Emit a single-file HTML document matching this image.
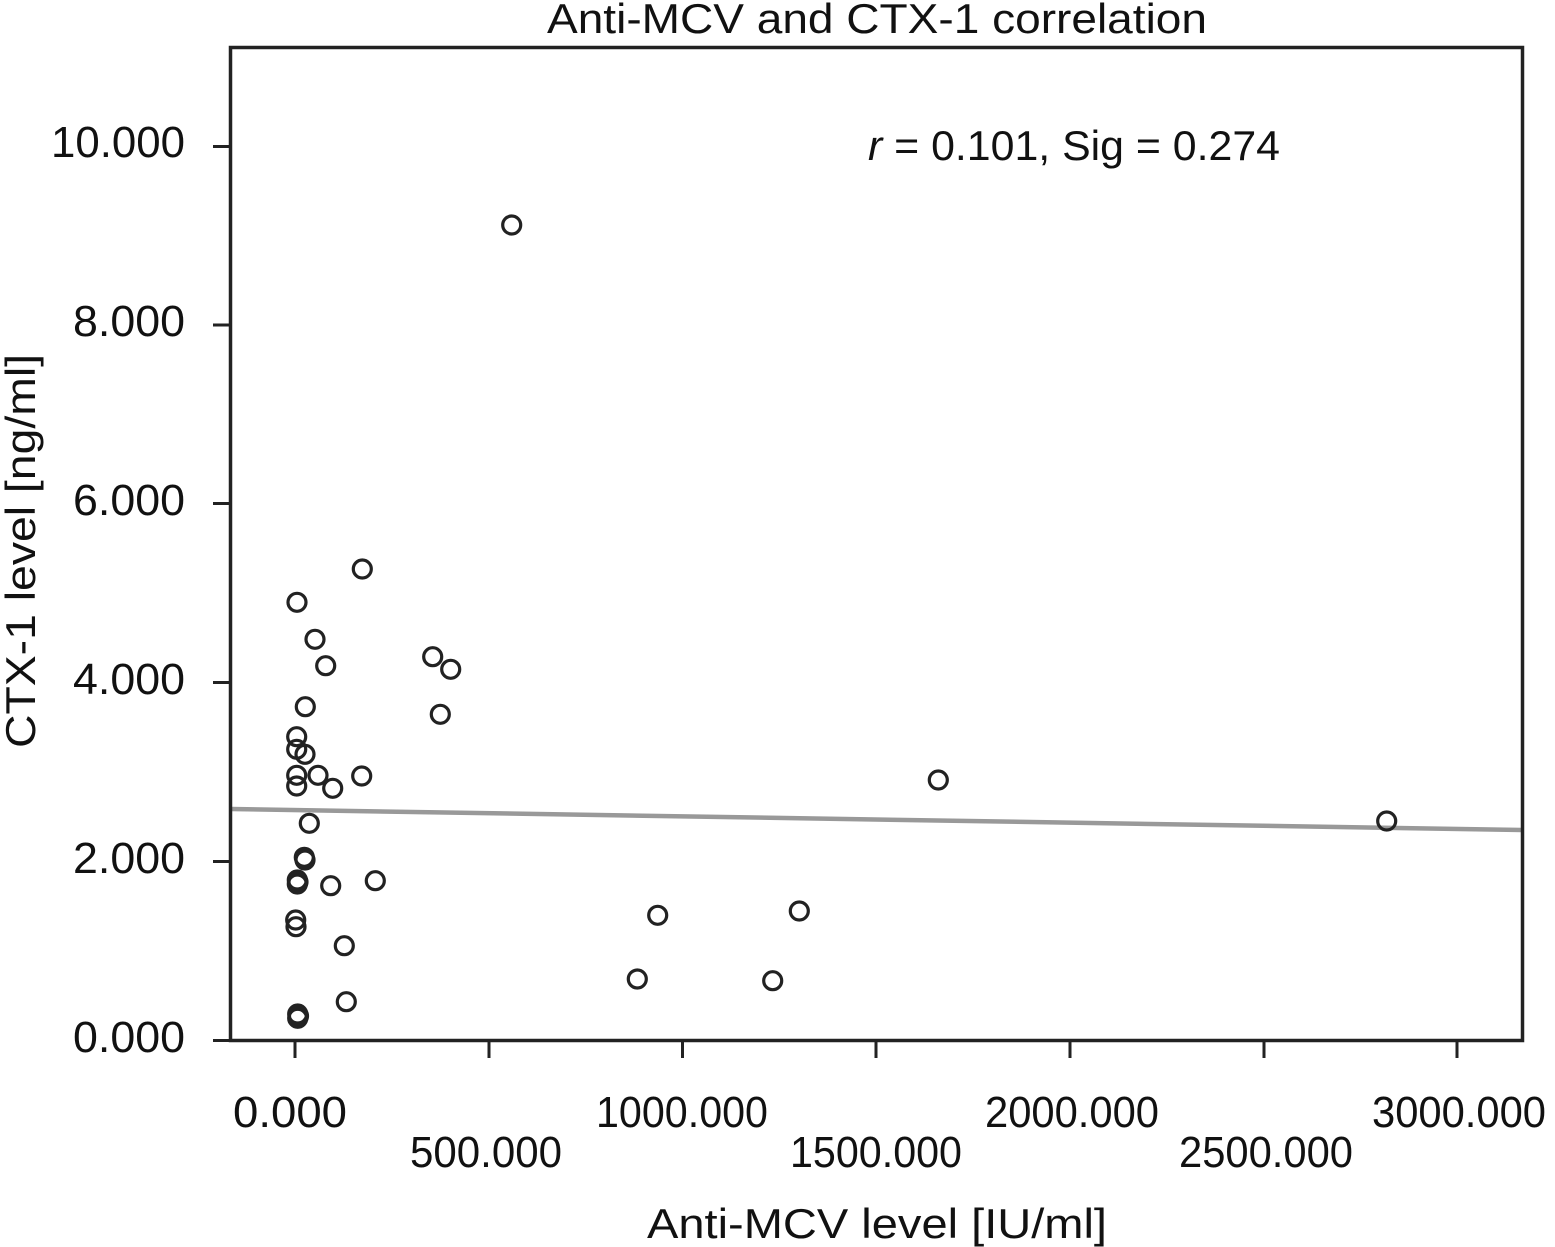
<!DOCTYPE html>
<html>
<head>
<meta charset="utf-8">
<style>
  html, body { margin: 0; padding: 0; background: #fff; }
  svg { display: block; }
  text { font-family: "Liberation Sans", sans-serif; fill: #111; }
</style>
</head>
<body>
<svg width="1555" height="1247" viewBox="0 0 1555 1247" xmlns="http://www.w3.org/2000/svg">
  <rect x="0" y="0" width="1555" height="1247" fill="#fff"/>

  <!-- Title -->
  <text x="877" y="33" font-size="42" text-anchor="middle" textLength="660" lengthAdjust="spacingAndGlyphs">Anti-MCV and CTX-1 correlation</text>

  <!-- Annotation -->
  <text x="868" y="160" font-size="42" textLength="412" lengthAdjust="spacingAndGlyphs"><tspan font-style="italic">r</tspan> = 0.101, Sig = 0.274</text>

  <!-- Regression line -->
  <line x1="231" y1="809" x2="1522" y2="830" stroke="#999" stroke-width="4.5"/>

  <!-- Plot frame -->
  <rect x="230.5" y="47.5" width="1292" height="993" fill="none" stroke="#222" stroke-width="3.5"/>

  <!-- Y ticks -->
  <g stroke="#222" stroke-width="3">
    <line x1="213" y1="146.5" x2="231" y2="146.5"/>
    <line x1="213" y1="325" x2="231" y2="325"/>
    <line x1="213" y1="503.5" x2="231" y2="503.5"/>
    <line x1="213" y1="682.5" x2="231" y2="682.5"/>
    <line x1="213" y1="861.5" x2="231" y2="861.5"/>
    <line x1="213" y1="1040.5" x2="231" y2="1040.5"/>
  </g>
  <g font-size="44" text-anchor="end">
    <text x="185" y="157" textLength="134" lengthAdjust="spacingAndGlyphs">10.000</text>
    <text x="185" y="336" textLength="112" lengthAdjust="spacingAndGlyphs">8.000</text>
    <text x="185" y="515" textLength="112" lengthAdjust="spacingAndGlyphs">6.000</text>
    <text x="185" y="694" textLength="112" lengthAdjust="spacingAndGlyphs">4.000</text>
    <text x="185" y="873" textLength="112" lengthAdjust="spacingAndGlyphs">2.000</text>
    <text x="185" y="1052" textLength="112" lengthAdjust="spacingAndGlyphs">0.000</text>
  </g>

  <!-- X ticks -->
  <g stroke="#222" stroke-width="3">
    <line x1="295" y1="1040" x2="295" y2="1058"/>
    <line x1="489" y1="1040" x2="489" y2="1058"/>
    <line x1="682.5" y1="1040" x2="682.5" y2="1058"/>
    <line x1="876" y1="1040" x2="876" y2="1058"/>
    <line x1="1070" y1="1040" x2="1070" y2="1058"/>
    <line x1="1264" y1="1040" x2="1264" y2="1058"/>
    <line x1="1457" y1="1040" x2="1457" y2="1058"/>
  </g>
  <g font-size="44" text-anchor="middle">
    <text x="290" y="1127" textLength="114" lengthAdjust="spacingAndGlyphs">0.000</text>
    <text x="486" y="1167" textLength="152" lengthAdjust="spacingAndGlyphs">500.000</text>
    <text x="682" y="1127" textLength="172" lengthAdjust="spacingAndGlyphs">1000.000</text>
    <text x="876" y="1167" textLength="172" lengthAdjust="spacingAndGlyphs">1500.000</text>
    <text x="1072" y="1127" textLength="174" lengthAdjust="spacingAndGlyphs">2000.000</text>
    <text x="1266" y="1167" textLength="174" lengthAdjust="spacingAndGlyphs">2500.000</text>
    <text x="1459" y="1127" textLength="174" lengthAdjust="spacingAndGlyphs">3000.000</text>
  </g>

  <!-- Axis titles -->
  <text x="877" y="1238" font-size="42" text-anchor="middle" textLength="460" lengthAdjust="spacingAndGlyphs">Anti-MCV level [IU/ml]</text>
  <text transform="translate(35,551) rotate(-90)" x="0" y="0" font-size="42" text-anchor="middle" textLength="394" lengthAdjust="spacingAndGlyphs">CTX-1 level [ng/ml]</text>

  <!-- Data points -->
  <g fill="none" stroke="#222" stroke-width="3.2">
    <circle cx="511.7" cy="225" r="9"/>
    <circle cx="362.3" cy="569" r="9"/>
    <circle cx="297" cy="602.3" r="9"/>
    <circle cx="315" cy="639.3" r="9"/>
    <circle cx="325.7" cy="665.7" r="9"/>
    <circle cx="432.7" cy="656.7" r="9"/>
    <circle cx="450.7" cy="669.3" r="9"/>
    <circle cx="305.3" cy="706.7" r="9"/>
    <circle cx="440.3" cy="714.3" r="9"/>
    <circle cx="296.7" cy="736.7" r="9"/>
    <circle cx="296.7" cy="749.3" r="9"/>
    <circle cx="305" cy="754.3" r="9"/>
    <circle cx="296.7" cy="775.3" r="9"/>
    <circle cx="318" cy="775.3" r="9"/>
    <circle cx="296.7" cy="786" r="9"/>
    <circle cx="332.7" cy="788.3" r="9"/>
    <circle cx="361.7" cy="776" r="9"/>
    <circle cx="309.3" cy="823.3" r="9"/>
    <circle cx="304.3" cy="857.3" r="9"/>
    <circle cx="305" cy="860" r="9"/>
    <circle cx="297.3" cy="880" r="9"/>
    <circle cx="297.3" cy="884" r="9"/>
    <circle cx="298" cy="882" r="9"/>
    <circle cx="330.7" cy="885.7" r="9"/>
    <circle cx="375.3" cy="880.7" r="9"/>
    <circle cx="295.7" cy="920" r="9"/>
    <circle cx="296" cy="926.7" r="9"/>
    <circle cx="344.3" cy="945.7" r="9"/>
    <circle cx="346.3" cy="1001.7" r="9"/>
    <circle cx="297.7" cy="1014" r="9"/>
    <circle cx="297.7" cy="1018.3" r="9"/>
    <circle cx="298.5" cy="1016" r="9"/>
    <circle cx="657.7" cy="915.3" r="9"/>
    <circle cx="799.3" cy="911" r="9"/>
    <circle cx="637.3" cy="979" r="9"/>
    <circle cx="772.7" cy="980.7" r="9"/>
    <circle cx="938.3" cy="780" r="9"/>
    <circle cx="1386.7" cy="821" r="9"/>
  </g>
</svg>
</body>
</html>
